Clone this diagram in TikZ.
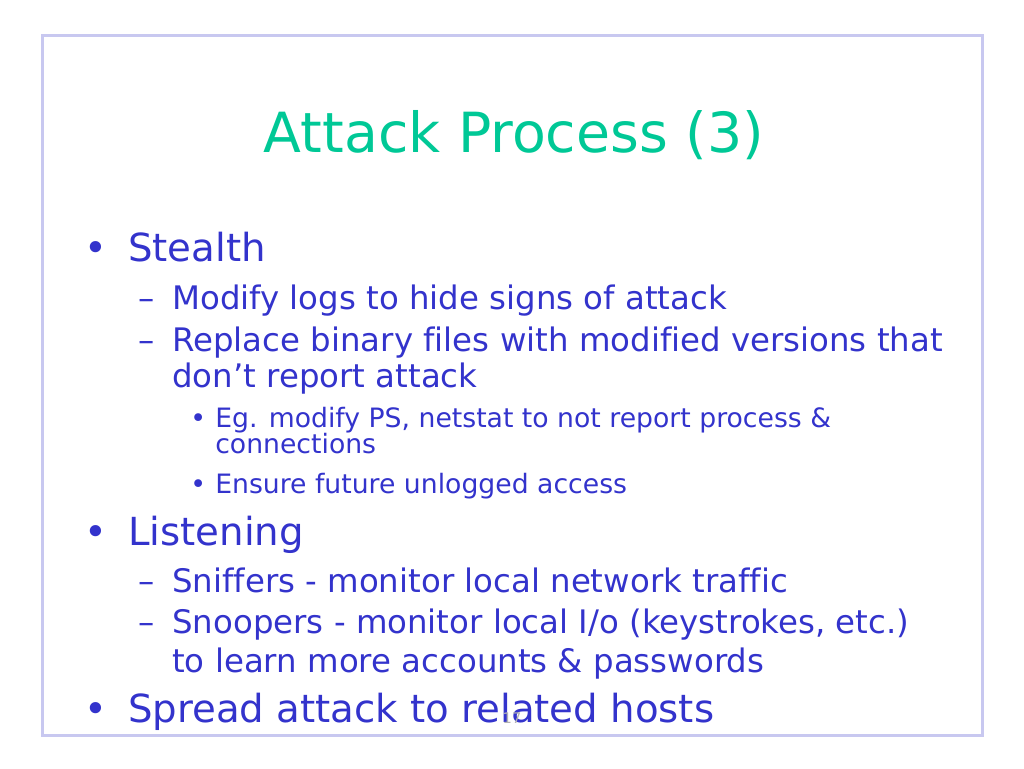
\documentclass[tikz,border=0pt]{standalone}
\usepackage{fontspec}
\setmainfont[Ligatures={NoCommon}]{DejaVu Sans}
\definecolor{titlegreen}{RGB}{0,200,150}
\definecolor{textblue}{RGB}{51,51,204}
\definecolor{framelav}{RGB}{200,200,240}
\begin{document}
\begin{tikzpicture}[x=0.75pt,y=-0.75pt,
    txt/.style={anchor=base west,inner sep=0pt,text=textblue},
    lvla/.style={txt,font=\fontsize{29}{34}\selectfont},
    lvlb/.style={txt,font=\fontsize{24.3}{28}\selectfont},
    lvlc/.style={txt,font=\fontsize{20}{24}\selectfont}]
  \useasboundingbox (0,0) rectangle (1024,768);
  \draw[framelav,line width=2.25pt] (42,35) rectangle (982,735);
  % title
  \node[anchor=base,inner sep=0pt,text=titlegreen,font=\fontsize{41.5}{50}\selectfont] (title) at (514,152) {Attack Process (3)};
  % first bullet
  \node[lvla] (b1) at (84,261) {•};
  \node[lvla] (stealth) at (128,261) {Stealth};
  \node[lvlb] (d1) at (138,309) {–};
  \node[lvlb] (modify) at (172,309) {Modify logs to hide signs of attack};
  \node[lvlb] (d2) at (138,351) {–};
  \node[lvlb] (replace) at (172,351) {Replace binary files with modified versions that};
  \node[lvlb] (dont) at (172,387) {don’t report attack};
  \node[lvlc] (s1) at (190,427) {•};
  \node[lvlc] (eg) at (215,427) {Eg. modify PS, netstat to not report process \&};
  \node[lvlc] (conn) at (215,453) {connections};
  \node[lvlc] (s2) at (190,493) {•};
  \node[lvlc] (ensure) at (215,493) {Ensure future unlogged access};
  % second bullet
  \node[lvla] (b2) at (84,545) {•};
  \node[lvla] (listen) at (128,545) {Listening};
  \node[lvlb] (d3) at (138,592) {–};
  \node[lvlb] (sniff) at (172,592) {Sniffers - monitor local network traffic};
  \node[lvlb] (d4) at (138,633) {–};
  \node[lvlb] (snoop) at (172,633) {Snoopers - monitor local I/o (keystrokes, etc.)};
  \node[lvlb] (learn) at (172,672) {to learn more accounts \& passwords};
  % third bullet
  \node[lvla] (b3) at (84,722) {•};
  \node[lvla] (spread) at (128,722) {Spread attack to related hosts};
  % page number
  \node[anchor=base,inner sep=0pt,text=gray!60,font=\fontsize{11}{13}\selectfont] (pgno) at (512,723) {17};
\end{tikzpicture}
\end{document}
